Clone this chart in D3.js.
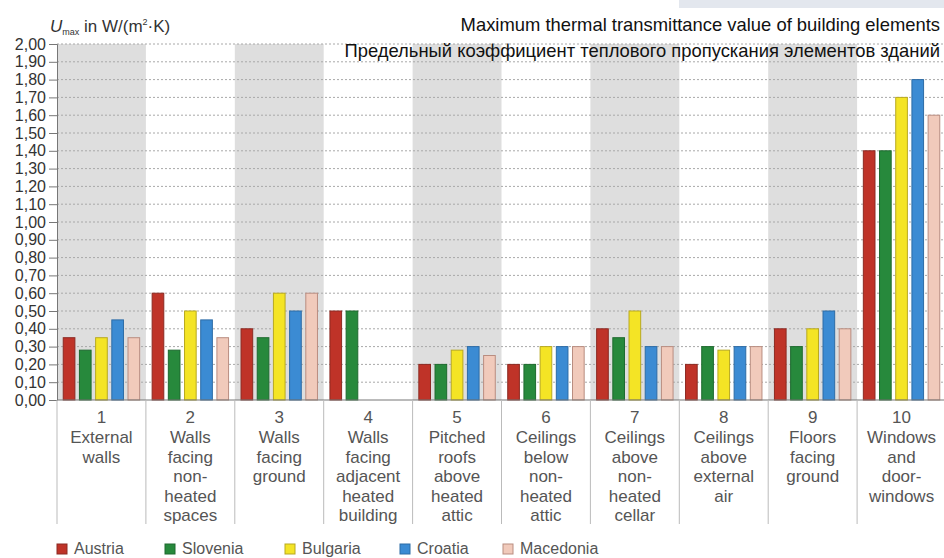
<!DOCTYPE html>
<html>
<head>
<meta charset="utf-8">
<script src="https://cdn.jsdelivr.net/npm/d3@7"></script>
<style>
  body { margin: 0; background: #fff; }
  svg { display: block; font-family: "Liberation Sans", Arial, sans-serif; }
</style>
</head>
<body>
<div id="vis-container"></div>
<script>
// chart data
const categories = ["1", "2", "3", "4", "5", "6", "7", "8", "9", "10"];
const categoryNames = [
  ["External", "walls"],
  ["Walls", "facing", "non-", "heated", "spaces"],
  ["Walls", "facing", "ground"],
  ["Walls", "facing", "adjacent", "heated", "building"],
  ["Pitched", "roofs", "above", "heated", "attic"],
  ["Ceilings", "below", "non-", "heated", "attic"],
  ["Ceilings", "above", "non-", "heated", "cellar"],
  ["Ceilings", "above", "external", "air"],
  ["Floors", "facing", "ground"],
  ["Windows", "and", "door-", "windows"]
];
const countries = ["Austria", "Slovenia", "Bulgaria", "Croatia", "Macedonia"];
const austria   = [0.35, 0.60, 0.40, 0.50, 0.20, 0.20, 0.40, 0.20, 0.40, 1.40];
const slovenia  = [0.28, 0.28, 0.35, 0.50, 0.20, 0.20, 0.35, 0.30, 0.30, 1.40];
const bulgaria  = [0.35, 0.50, 0.60, null, 0.28, 0.30, 0.50, 0.28, 0.40, 1.70];
const croatia   = [0.45, 0.45, 0.50, null, 0.30, 0.30, 0.30, 0.30, 0.50, 1.80];
const macedonia = [0.35, 0.35, 0.60, null, 0.25, 0.30, 0.30, 0.30, 0.40, 1.60];
const yTicks = d3.range(0, 21).map(d => d / 10);

const titleLines = [
  "Maximum thermal transmittance value of building elements",
  "Предельный коэффициент теплового пропускания элементов зданий"
];

const seriesValues = [austria, slovenia, bulgaria, croatia, macedonia];
const fillColors = ["#bf3328", "#27893c", "#f4e425", "#3b8bd3", "#f1cabb"];
const strokeColors = ["#8c2a22", "#1e6a2f", "#b8a920", "#2d6ca6", "#b98d80"];

const width = 944;
const height = 558;
const margin = { left: 57, right: -2, top: 44, bottom: 158 };

const svg = d3.select("#vis-container")
  .append("svg")
  .attr("width", width)
  .attr("height", height);

const x0 = d3.scaleBand()
  .domain(categories)
  .range([margin.left, width - margin.right]);

const x1 = d3.scaleBand()
  .domain(countries)
  .range([0, x0.bandwidth()])
  .paddingInner(0.28)
  .paddingOuter(0.385);

const y = d3.scaleLinear()
  .domain([0, 2])
  .range([height - margin.bottom, margin.top]);

// light box top right
svg.append("rect")
  .attr("x", 679).attr("y", 0)
  .attr("width", width - 679).attr("height", 8)
  .attr("fill", "#e3e7ee");

// alternating shaded columns
svg.append("g")
  .selectAll("rect")
  .data(categories.filter((d, i) => i % 2 === 0))
  .join("rect")
  .attr("x", d => x0(d))
  .attr("y", y(2))
  .attr("width", x0.bandwidth())
  .attr("height", y(0) - y(2))
  .attr("fill", "#dedede");

// horizontal dotted grid
svg.append("g")
  .selectAll("line")
  .data(yTicks.slice(1))
  .join("line")
  .attr("x1", margin.left)
  .attr("x2", width)
  .attr("y1", d => y(d))
  .attr("y2", d => y(d))
  .attr("stroke", "#a8a8a8")
  .attr("stroke-width", 1)
  .attr("stroke-dasharray", "2,2");

// bars
const barData = [];
categories.forEach((c, i) => {
  countries.forEach((k, j) => {
    if (seriesValues[j][i] !== null) {
      barData.push({ cat: c, country: k, j: j, value: seriesValues[j][i] });
    }
  });
});

svg.append("g")
  .selectAll("rect")
  .data(barData)
  .join("rect")
  .attr("x", d => x0(d.cat) + x1(d.country))
  .attr("y", d => y(d.value))
  .attr("width", x1.bandwidth())
  .attr("height", d => y(0) - y(d.value))
  .attr("fill", d => fillColors[d.j])
  .attr("stroke", d => strokeColors[d.j])
  .attr("stroke-width", 1);

// y axis
svg.append("g")
  .attr("transform", `translate(${margin.left},0)`)
  .call(d3.axisLeft(y)
    .tickValues(yTicks)
    .tickSize(8)
    .tickPadding(3)
    .tickFormat(d => d3.format(".2f")(d).replace(".", ",")))
  .call(g => g.select(".domain").attr("stroke", "#777"))
  .call(g => g.selectAll(".tick line").attr("stroke", "#777"))
  .call(g => g.selectAll(".tick text")
    .attr("font-size", "16px")
    .attr("font-family", "Liberation Sans, Arial, sans-serif")
    .attr("fill", "#333"));

// x axis line
svg.append("line")
  .attr("x1", margin.left).attr("x2", width)
  .attr("y1", y(0)).attr("y2", y(0))
  .attr("stroke", "#777");

// separators in label area
svg.append("g")
  .selectAll("line")
  .data(categories)
  .join("line")
  .attr("x1", d => x0(d))
  .attr("x2", d => x0(d))
  .attr("y1", y(0))
  .attr("y2", 524)
  .attr("stroke", "#bbb");

// category labels
const labels = svg.append("g")
  .selectAll("text")
  .data(categories)
  .join("text")
  .attr("text-anchor", "middle")
  .attr("font-size", "17px")
  .attr("fill", "#555");

labels.append("tspan")
  .attr("x", d => x0(d) + x0.bandwidth() / 2)
  .attr("y", 423)
  .text(d => d);

labels.each(function (d, i) {
  d3.select(this).selectAll("tspan.name")
    .data(categoryNames[i])
    .join("tspan")
    .attr("class", "name")
    .attr("x", x0(d) + x0.bandwidth() / 2)
    .attr("y", (t, k) => 443 + k * 19.5)
    .text(t => t);
});

// y axis title
const yTitle = svg.append("text")
  .attr("x", 50)
  .attr("y", 32)
  .attr("font-size", "17px")
  .attr("fill", "#333");
yTitle.append("tspan").attr("font-style", "italic").text("U");
yTitle.append("tspan").attr("font-size", "9px").attr("dy", 3).text("max");
yTitle.append("tspan").attr("dy", -3).text(" in  W/(m");
yTitle.append("tspan").attr("font-size", "9px").attr("dy", -7).text("2");
yTitle.append("tspan").attr("dy", 7).text("·K)");

// chart title
svg.append("g")
  .selectAll("text")
  .data(titleLines)
  .join("text")
  .attr("x", 940)
  .attr("y", (d, i) => 31 + i * 26)
  .attr("text-anchor", "end")
  .attr("font-size", "18.4px")
  .attr("fill", "#111")
  .text(d => d);

// legend
const legendX = [57, 165, 285, 400, 503];
const legend = svg.append("g")
  .selectAll("g")
  .data(countries)
  .join("g")
  .attr("transform", (d, i) => `translate(${legendX[i]},544)`);

legend.append("rect")
  .attr("width", 10)
  .attr("height", 10)
  .attr("fill", (d, i) => fillColors[i])
  .attr("stroke", (d, i) => strokeColors[i]);

legend.append("text")
  .attr("x", 17)
  .attr("y", 10)
  .attr("font-size", "16px")
  .attr("fill", "#555")
  .text(d => d);
</script>
</body>
</html>
